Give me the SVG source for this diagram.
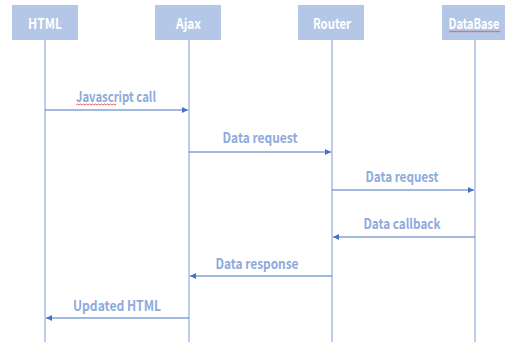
<svg xmlns="http://www.w3.org/2000/svg" width="507" height="342" viewBox="0 0 507 342">
<style>
.box{fill:#B4C7E7;}
.hdr{font-family:"Noto Sans CJK KR","Liberation Sans",sans-serif;font-weight:bold;font-size:14.5px;fill:#FFFFFF;text-anchor:middle;}
.life{stroke:#A9BDE6;stroke-width:1.5;fill:none;}
.msg{stroke:#4472C4;stroke-width:1;fill:none;marker-end:url(#ah);}
.lbl{font-family:"Noto Sans CJK KR","Liberation Sans",sans-serif;font-weight:bold;font-size:14px;fill:#8FAADC;text-anchor:middle;}
.spell{stroke:#E04040;stroke-width:0.8;fill:none;}
</style>
<defs>
<marker id="ah" viewBox="0 0 6 6" refX="6" refY="3" markerWidth="6" markerHeight="6" markerUnits="userSpaceOnUse" orient="auto">
<path d="M0,0 L6,3 L0,6 z" fill="#4472C4"/>
</marker>
</defs>
<g id="lifelines">
<line class="life" x1="45" y1="40" x2="45" y2="342"/>
<line class="life" x1="189" y1="40" x2="189" y2="342"/>
<line class="life" x1="332" y1="40" x2="332" y2="342"/>
<line class="life" x1="475" y1="40" x2="475" y2="342"/>
</g>
<g id="node-html">
<rect class="box" x="12" y="5" width="66" height="35"/>
<text class="hdr" x="45" y="29" textLength="34" lengthAdjust="spacingAndGlyphs">HTML</text>
</g>
<g id="node-ajax">
<rect class="box" x="155" y="5" width="66" height="35"/>
<text class="hdr" x="188.5" y="29" textLength="25" lengthAdjust="spacingAndGlyphs">Ajax</text>
</g>
<g id="node-router">
<rect class="box" x="298" y="5" width="66" height="35"/>
<text class="hdr" x="332" y="29" textLength="38" lengthAdjust="spacingAndGlyphs">Router</text>
</g>
<g id="node-database">
<rect class="box" x="442" y="5" width="63" height="35"/>
<text class="hdr" x="474" y="29" textLength="51" lengthAdjust="spacingAndGlyphs">DataBase</text>
<path class="spell" d="M449,32 l1.5,-1 l1.5,1 l1.5,-1 l1.5,1 l1.5,-1 l1.5,1 l1.5,-1 l1.5,1 l1.5,-1 l1.5,1 l1.5,-1 l1.5,1 l1.5,-1 l1.5,1 l1.5,-1 l1.5,1 l1.5,-1 l1.5,1 l1.5,-1 l1.5,1 l1.5,-1 l1.5,1 l1.5,-1 l1.5,1 l1.5,-1 l1.5,1 l1.5,-1 l1.5,1 l1.5,-1 l1.5,1 l1.5,-1 l1.5,1 l1.5,-1 l1.5,1"/>
</g>
<g id="connectors">
<line class="msg" x1="45" y1="110" x2="188" y2="110"/>
<text class="lbl" x="116" y="102" textLength="80" lengthAdjust="spacingAndGlyphs">Javascript call</text>
<path class="spell" d="M76,105 l1.5,-1 l1.5,1 l1.5,-1 l1.5,1 l1.5,-1 l1.5,1 l1.5,-1 l1.5,1 l1.5,-1 l1.5,1 l1.5,-1 l1.5,1 l1.5,-1 l1.5,1 l1.5,-1 l1.5,1 l1.5,-1 l1.5,1 l1.5,-1 l1.5,1 l1.5,-1 l1.5,1 l1.5,-1 l1.5,1 l1.5,-1 l1.5,1 l1.5,-1"/>
<line class="msg" x1="189" y1="152" x2="331" y2="152"/>
<text class="lbl" x="260" y="143" textLength="75" lengthAdjust="spacingAndGlyphs">Data request</text>
<line class="msg" x1="332" y1="190" x2="474" y2="190"/>
<text class="lbl" x="402" y="182" textLength="73" lengthAdjust="spacingAndGlyphs">Data request</text>
<line class="msg" x1="475" y1="237" x2="333" y2="237"/>
<text class="lbl" x="402" y="229" textLength="77" lengthAdjust="spacingAndGlyphs">Data callback</text>
<line class="msg" x1="332" y1="276" x2="190" y2="276"/>
<text class="lbl" x="257" y="269" textLength="83" lengthAdjust="spacingAndGlyphs">Data response</text>
<line class="msg" x1="189" y1="318" x2="46" y2="318"/>
<text class="lbl" x="117" y="311" textLength="88" lengthAdjust="spacingAndGlyphs">Updated HTML</text>
</g>
</svg>
